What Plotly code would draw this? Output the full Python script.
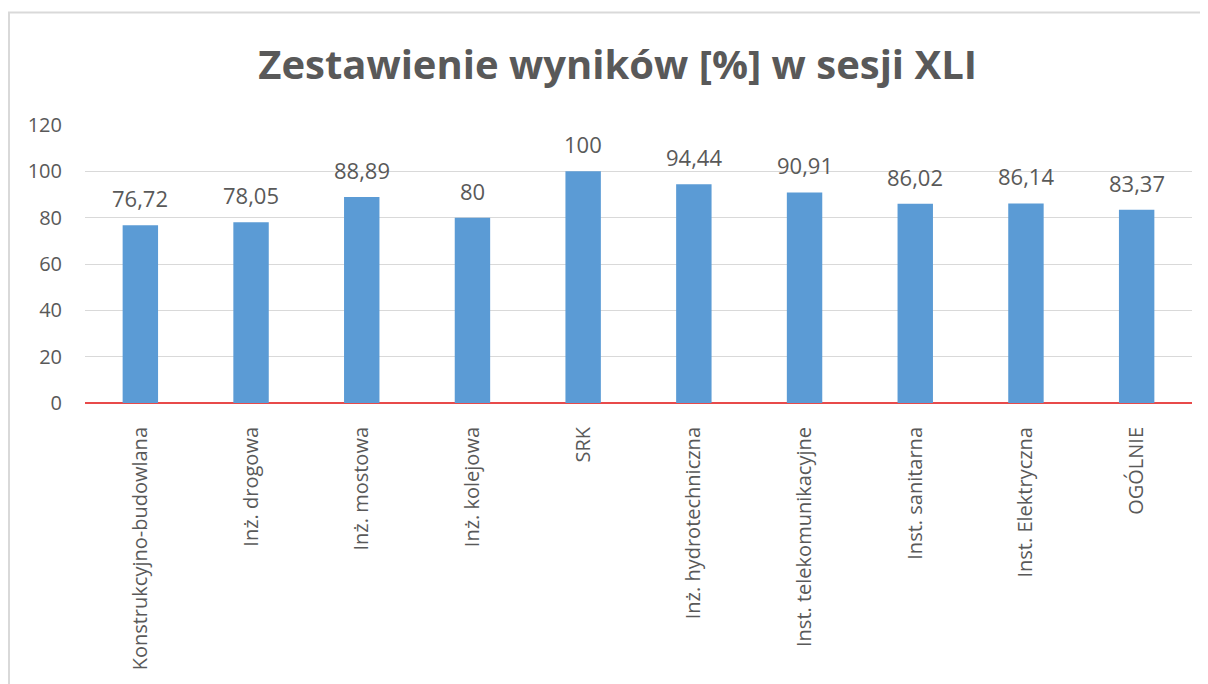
import plotly.graph_objects as go

categories = ["Konstrukcyjno-budowlana", "Inż. drogowa", "Inż. mostowa", "Inż. kolejowa", "SRK",
              "Inż. hydrotechniczna", "Inst. telekomunikacyjne", "Inst. sanitarna", "Inst. Elektryczna", "OGÓLNIE"]
values = [76.72, 78.05, 88.89, 80, 100, 94.44, 90.91, 86.02, 86.14, 83.37]
labels = [("%g" % v).replace(".", ",") for v in values]
title_text = "Zestawienie wyników [%] w sesji XLI"
y_ticks = [0, 20, 40, 60, 80, 100, 120]

FONT = "Open Sans"
GRAY = "#595959"

fig = go.Figure(go.Bar(
    x=categories, y=values,
    marker=dict(color="#5B9BD5", line=dict(width=0)),
    width=0.32,
))

# page body adds an 8px offset; figure coordinates = screen - 8
W, H = 1200, 676
L, R, T, B = 77, 16, 117, 281
pw, ph = W - L - R, H - T - B

def px(x):
    return (x - L) / pw

def py(y):
    return (H - B - y) / ph

annotations = [dict(x=c, y=v, xref="x", yref="y", text=t, showarrow=False, yanchor="middle",
                    yshift=27, font=dict(family=FONT, size=22, color=GRAY))
               for c, v, t in zip(categories, values, labels)]

fig.update_layout(
    width=W, height=H,
    margin=dict(l=L, r=R, t=T, b=B, pad=0),
    paper_bgcolor="white", plot_bgcolor="white",
    showlegend=False,
    title=dict(text="<b>%s</b>" % title_text, x=0.508, xanchor="center", y=1 - 57 / H, yanchor="middle",
               font=dict(family=FONT, size=40, color=GRAY)),
    xaxis=dict(tickangle=-90, tickfont=dict(family=FONT, size=20, color=GRAY),
               showgrid=False, showline=False, ticks="", ticklabelstandoff=19),
    yaxis=dict(range=[0, 120], tickvals=y_ticks, tickfont=dict(family=FONT, size=20, color=GRAY),
               showgrid=True, gridcolor="#D9D9D9", gridwidth=1, zeroline=True, zerolinecolor="#E84A4A",
               zerolinewidth=1.5, showline=False, ticks="", ticklabelstandoff=22),
    annotations=annotations,
    shapes=[dict(type="rect", xref="paper", yref="paper", x0=px(1), x1=px(1230), y0=py(4.5), y1=py(700),
                 line=dict(color="#D9D9D9", width=2), fillcolor="rgba(0,0,0,0)", layer="below")],
)

fig.write_html("out.html")
